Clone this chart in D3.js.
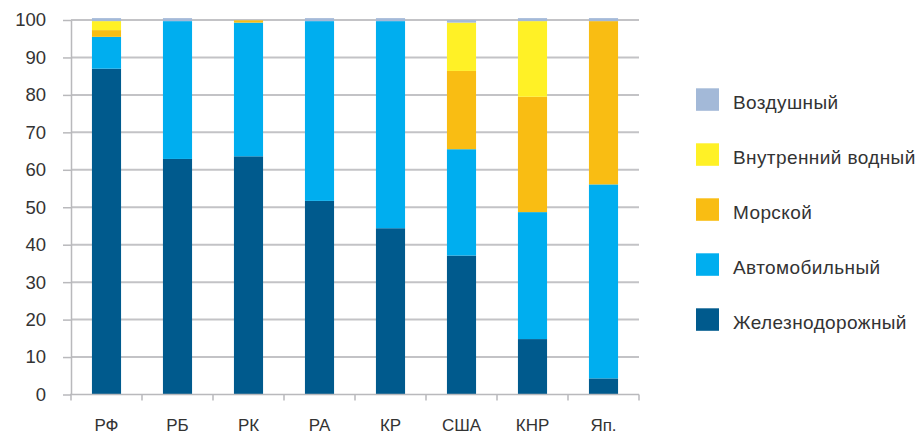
<!DOCTYPE html>
<html>
<head>
<meta charset="utf-8">
<script src="https://cdn.jsdelivr.net/npm/d3@7"></script>
<style>
  html, body { margin: 0; padding: 0; background: #ffffff; }
  svg text { font-family: "Liberation Sans", Arial, sans-serif; fill: #333333; }
</style>
</head>
<body>
<svg id="chart" width="919" height="435"></svg>
<script>
// Freight turnover structure by mode of transport, %
const countries = ["РФ", "РБ", "РК", "РА", "КР", "США", "КНР", "Яп."];
const railway  = [87.0, 62.9, 63.6, 51.7, 44.4, 37.1, 14.8, 4.3];
const road     = [8.5, 36.8, 35.7, 48.0, 55.3, 28.4, 33.9, 51.8];
const sea      = [1.8, 0, 0.6, 0, 0, 20.9, 30.8, 43.6];
const inland   = [2.4, 0, 0, 0, 0, 12.9, 20.2, 0];
const air      = [0.8, 0.8, 0, 0.8, 0.8, 0.7, 0.8, 0.8];
const yTicks   = [0, 10, 20, 30, 40, 50, 60, 70, 80, 90, 100];

const seriesNames  = ["Железнодорожный", "Автомобильный", "Морской", "Внутренний водный", "Воздушный"];
const seriesColors = ["#005a8d", "#00aeef", "#f9bd13", "#fff126", "#a3b9d8"];
const seriesValues = [railway, road, sea, inland, air];

const rows = countries.map((c, i) => {
  const r = { country: c };
  seriesNames.forEach((s, k) => { r[s] = seriesValues[k][i]; });
  return r;
});

const svg = d3.select("#chart");
const m = { left: 71, right: 639, top: 20, bottom: 394.5 };

const x = d3.scaleBand().domain(countries).range([m.left, m.right]).paddingInner(0.59).paddingOuter(0.295);
const y = d3.scaleLinear().domain([0, 100]).range([m.bottom, m.top]);

// horizontal gridlines
svg.append("g")
  .selectAll("line")
  .data(yTicks.filter(t => t > 0))
  .join("line")
  .attr("x1", m.left).attr("x2", m.right)
  .attr("y1", d => y(d)).attr("y2", d => y(d))
  .attr("stroke", "#c3c3c6").attr("stroke-width", 2);

// stacked bars
const stack = d3.stack().keys(seriesNames)(rows);
svg.append("g")
  .selectAll("g")
  .data(stack)
  .join("g")
  .attr("fill", (d, i) => seriesColors[i])
  .selectAll("rect")
  .data(d => d)
  .join("rect")
  .attr("x", d => x(d.data.country))
  .attr("width", x.bandwidth())
  .attr("y", d => y(d[1]))
  .attr("height", d => Math.max(0, y(d[0]) - y(d[1])));

// y axis
const yAxis = d3.axisLeft(y).tickValues(yTicks).tickSize(8).tickPadding(17).tickSizeOuter(0);
const gy = svg.append("g").attr("transform", `translate(${m.left},0)`).call(yAxis);
gy.select(".domain").attr("stroke", "#b9b9bc").attr("stroke-width", 1.5);
gy.selectAll(".tick line").attr("stroke", "#b9b9bc").attr("stroke-width", 1.5);
gy.selectAll(".tick text").style("font-size", "18.5px").attr("fill", "#333");

// x axis with ticks at category boundaries
const gx = svg.append("g");
gx.append("line")
  .attr("x1", m.left - 1).attr("x2", m.right)
  .attr("y1", m.bottom).attr("y2", m.bottom)
  .attr("stroke", "#b9b9bc").attr("stroke-width", 1.5);
gx.selectAll("line.tk")
  .data(d3.range(countries.length + 1))
  .join("line")
  .attr("class", "tk")
  .attr("x1", i => m.left + i * x.step())
  .attr("x2", i => m.left + i * x.step())
  .attr("y1", m.bottom).attr("y2", m.bottom + 6)
  .attr("stroke", "#b9b9bc").attr("stroke-width", 1.5);
gx.selectAll("text")
  .data(countries)
  .join("text")
  .attr("x", d => x(d) + x.bandwidth() / 2)
  .attr("y", 430.5)
  .attr("text-anchor", "middle")
  .style("font-size", "17px")
  .text(d => d);

// legend, top item is the top layer of the stack
const legendOrder = seriesNames.map((s, i) => i).reverse();
const lg = svg.append("g")
  .selectAll("g")
  .data(legendOrder)
  .join("g")
  .attr("transform", (d, j) => `translate(696, ${88.3 + j * 55})`);
lg.append("rect").attr("width", 23).attr("height", 22.5).attr("fill", d => seriesColors[d]);
lg.append("text")
  .attr("x", 37).attr("y", 21)
  .style("font-size", "19px")
  .style("letter-spacing", "0.4px")
  .text(d => seriesNames[d]);
</script>
</body>
</html>
